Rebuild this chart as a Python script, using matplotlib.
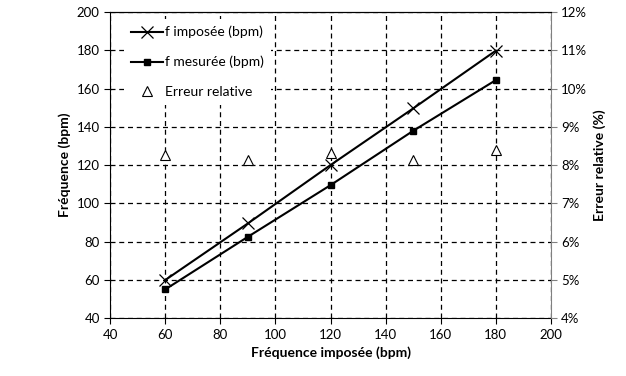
import numpy as np
import matplotlib.pyplot as plt
from matplotlib.ticker import FuncFormatter

plt.rcParams['font.family'] = ['Lato', 'DejaVu Sans']
plt.rcParams['font.size'] = 9.5

f_imp_x = [60, 90, 120, 150, 180]
f_imposee = [59.9, 89.5, 120, 149.6, 179.8]
f_mesuree = [55, 82.5, 109.5, 137.9, 164.4]
erreur = [8.27, 8.14, 8.32, 8.14, 8.4]  # %

fig = plt.figure(figsize=(6.26, 3.76), dpi=100)
ax = fig.add_axes([0.176, 0.154, 0.704, 0.814])

l1, = ax.plot(f_imp_x, f_imposee, 'k-', marker='x', ms=8, mew=0.9, lw=1.5,
              label='f imposée (bpm)')
l2, = ax.plot(f_imp_x, f_mesuree, 'k-', marker='s', ms=4, lw=1.5,
              label='f mesurée (bpm)')
ax.set_xlim(40, 200)
ax.set_ylim(40, 200)
ax.set_xticks(np.arange(40, 201, 20))
ax.set_yticks(np.arange(40, 201, 20))
ax.grid(True, color='k', ls=(0, (4, 3)), lw=0.9)
ax.tick_params(direction='out', length=4, color='k')
ax.set_xlabel('Fréquence imposée (bpm)', fontweight='bold', fontsize=10)
ax.set_ylabel('Fréquence (bpm)', fontweight='bold', fontsize=10)
for s in ax.spines.values():
    s.set_color('k')
ax.spines['right'].set_visible(False)

ax2 = ax.twinx()
l3, = ax2.plot(f_imp_x, erreur, ls='none', marker='^', ms=7, mfc='white',
               mec='k', mew=0.8, label='Erreur relative')
ax2.set_ylim(4, 12)
ax2.set_yticks(np.arange(4, 12.1, 1))
ax2.yaxis.set_major_formatter(FuncFormatter(lambda v, p: f'{v:.0f}%'))
ax2.tick_params(direction='out', length=4, color='#808080')
ax2.spines['right'].set_color('#808080')
ax2.spines['left'].set_visible(False)
ax2.spines['top'].set_color('k')
ax2.spines['bottom'].set_visible(False)
ax2.set_ylabel('Erreur relative (%)', fontweight='bold', fontsize=10)

leg = ax2.legend(handles=[l1, l2, l3], loc='upper left', frameon=True,
                 facecolor='white', edgecolor='none', framealpha=1,
                 fancybox=False, bbox_to_anchor=(0.015, 1.0),
                 handlelength=2.3, handletextpad=0.2, labelspacing=1.25,
                 borderpad=0.5, fontsize=10)

fig.savefig('out.png', dpi=100)
